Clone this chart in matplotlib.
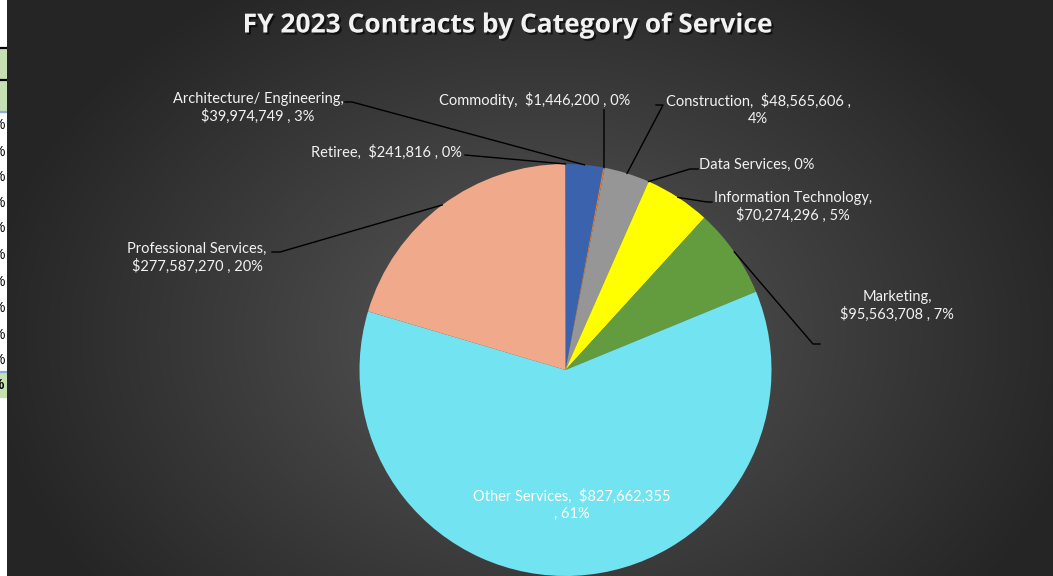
import numpy as np
import matplotlib
matplotlib.use("Agg")
import matplotlib.pyplot as plt
import matplotlib.patheffects as pe
from matplotlib.patches import Rectangle

# ---------------- data ----------------
categories = ["Architecture/ Engineering", "Commodity", "Construction", "Data Services",
              "Information Technology", "Marketing", "Other Services",
              "Professional Services", "Retiree"]
amounts = [39974749, 1446200, 48565606, 0, 70274296, 95563708, 827662355, 277587270, 241816]
show_amount = [True, True, True, False, True, True, True, True, True]
colors = ["#3B63AD", "#ED7D31", "#969696", "#4472C4", "#FFFF00", "#639B3F",
          "#72E3F0", "#F0A98A", "#7F7F7F"]
title = "FY 2023 Contracts by Category of Service"

# label line-break layout (separator after name, separator between amount and percent)
sep_name = ["\n", "  ", "  ", " ", "\n", "\n", "  ", "\n", "  "]
sep_amt = [" , ", " , ", " ,\n", " , ", " , ", " , ", "\n, ", " , ", " , "]

W, H = 1053, 576
fig = plt.figure(figsize=(W / 100, H / 100), dpi=100)
ax = fig.add_axes([0, 0, 1, 1])
ax.set_xlim(0, W)
ax.set_ylim(0, H)
ax.axis("off")

def Y(y):
    return H - y

# ---------- background: spreadsheet strip + dark radial gradient ----------
ax.add_patch(Rectangle((0, 0), W, H, color="white", zorder=0))
ax.add_patch(Rectangle((0, Y(112)), 7, 64, color="#C6E0B4", zorder=0.5))
ax.add_patch(Rectangle((0, Y(397)), 7, 25, color="#C6E0B4", zorder=0.5))
for yy, c in [(48, "black"), (80, "black"), (112, "#8EA9DB"), (372, "#8EA9DB")]:
    ax.plot([0, 7], [Y(yy), Y(yy)], color=c, lw=1.6, zorder=0.6)
clip = Rectangle((0, 0), 7, H, transform=ax.transData)
for yy in [125, 152, 177, 203, 228, 255, 282, 308, 335, 360]:
    t = ax.text(4.5, Y(yy), "%", ha="right", va="center", fontsize=10, color="black",
                family="Liberation Sans", zorder=0.7)
    t.set_clip_path(clip)
t = ax.text(4.5, Y(385), "%", ha="right", va="center", fontsize=10, color="black",
            family="Liberation Sans", weight="bold", zorder=0.7)
t.set_clip_path(clip)

gx = np.linspace(7, W, 600)
gy = np.linspace(0, H, 400)
GX, GY = np.meshgrid(gx, gy)
cx, cy = 540, 240
d = np.sqrt(((GX - cx) / 560.0) ** 2 + ((GY - cy) / 420.0) ** 2)
d = np.clip(d, 0, 1)
v = (0x5C - (0x5C - 0x25) * d ** 0.9) / 255.0
img = np.dstack([v, v, v])
ax.imshow(img, extent=(7, W, H, 0), origin="upper", zorder=1, aspect="auto",
          interpolation="bilinear")
ax.set_xlim(0, W)
ax.set_ylim(0, H)

# ---------------- pie ----------------
pcx, pcy, R = 565.5, Y(370), 206
wedges, _ = ax.pie(amounts, colors=colors, startangle=90, counterclock=False,
                   center=(pcx, pcy), radius=R, frame=True,
                   wedgeprops=dict(linewidth=0, zorder=2))
for w in wedges:
    w.set_zorder(2)
ax.set_xlim(0, W)
ax.set_ylim(0, H)
ax.set_aspect("auto")
ax.axis("off")

total = sum(amounts)
labels = []
for name, a, sh, s1, s2 in zip(categories, amounts, show_amount, sep_name, sep_amt):
    pct = f"{round(a / total * 100):.0f}%"
    if sh:
        labels.append(f"{name},{s1}${a:,}{s2}{pct}")
    else:
        labels.append(f"{name}, {pct}")

# label positions (centre of text block) and leader elbow/end points (image px)
label_pos = [(258, 108), (535, 100), (758, 110), (757, 165), (793, 207),
             (897, 306), (572, 505), (197, 258), (386, 152)]
leader = [[(352, 102), (345, 102)], [(604, 110)], [(663, 105), (656, 105)],
          [(690, 169), (698, 169)], [(707, 202), (712, 202)],
          [(813, 344), (820, 344)], None, [(280, 252), (272, 252)],
          [(465, 155)]]

fkw = dict(family=["Lato", "DejaVu Sans"], fontsize=10.5, color="#F2F2F2")
for w, lab, (lx, ly), ld in zip(wedges, labels, label_pos, leader):
    t = ax.text(lx, Y(ly), lab, ha="center", va="center", linespacing=1.3,
                zorder=5, **fkw)
    if lab.startswith("Other"):
        t.set_color("white")
    if ld is None:
        continue
    ang = np.deg2rad((w.theta1 + w.theta2) / 2)
    px, py = pcx + R * np.cos(ang), pcy + R * np.sin(ang)
    xs = [px] + [p[0] for p in ld]
    ys = [py] + [Y(p[1]) for p in ld]
    ax.plot(xs, ys, color="black", lw=1.0, zorder=4)

ax.text(507, Y(25), title, ha="center", va="center", fontsize=19, weight="bold",
        family=["Open Sans", "DejaVu Sans"], color="#F2F2F2", zorder=6,
        path_effects=[pe.withSimplePatchShadow(offset=(1.5, -1.5), shadow_rgbFace="black", alpha=0.6)])

fig.savefig("out.png", dpi=100)
